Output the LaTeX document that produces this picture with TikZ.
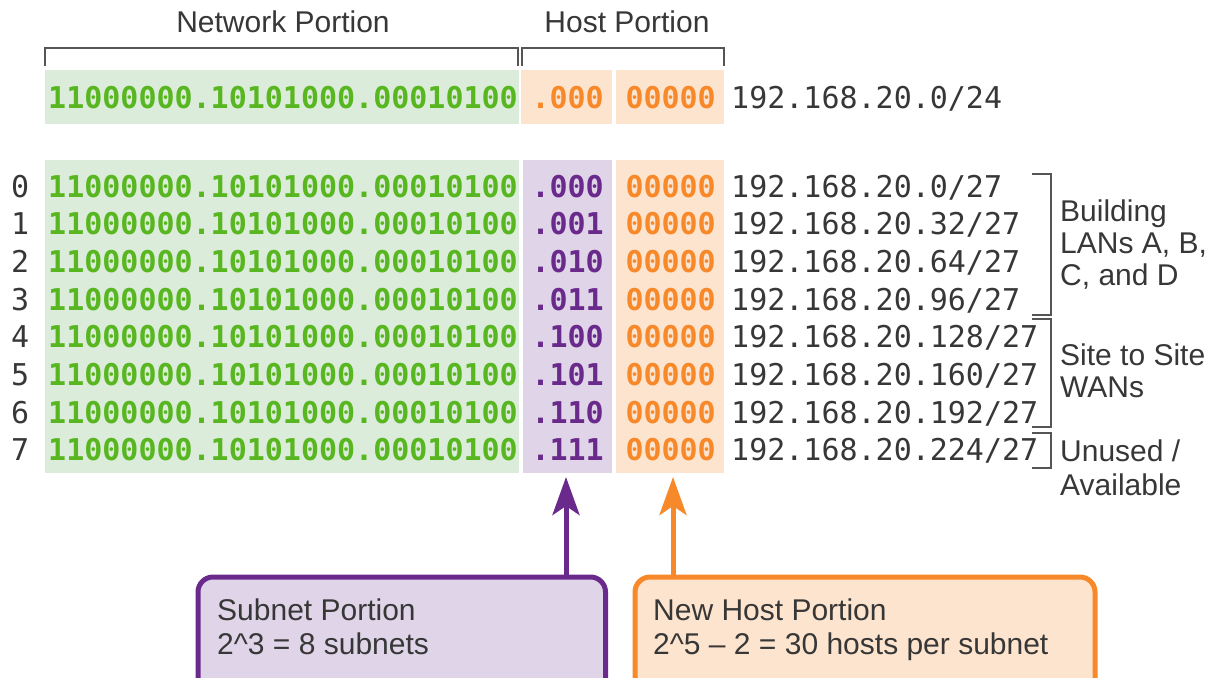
\documentclass[tikz,border=0pt]{standalone}
\usepackage{fontspec}
\setmainfont{Liberation Sans}
\newfontfamily\monof{DejaVu Sans Mono}
\usetikzlibrary{arrows.meta}
\definecolor{gtext}{RGB}{88,182,32}
\definecolor{gfill}{RGB}{220,236,218}
\definecolor{otext}{RGB}{247,137,42}
\definecolor{ofill}{RGB}{253,228,206}
\definecolor{ptext}{RGB}{106,42,140}
\definecolor{pfill}{RGB}{224,212,232}
\definecolor{dtext}{RGB}{55,55,55}
\definecolor{brkcol}{RGB}{85,85,85}
\begin{document}
\begin{tikzpicture}[x=1pt,y=-1pt,
  sans/.style={inner sep=0pt,text=dtext,font=\fontsize{30}{33}\selectfont},
  hdr/.style={sans,anchor=base},
  lbl/.style={sans,anchor=base west,align=left,font=\fontsize{30}{32.5}\selectfont},
  mono/.style={inner sep=0pt,font=\monof\fontsize{30}{33}\selectfont},
  monob/.style={inner sep=0pt,font=\monof\bfseries\fontsize{30}{33}\selectfont},
  brk/.style={draw=brkcol,line width=2.6pt},
  callout/.style={line width=5pt,rounded corners=15pt,anchor=north west},
  parr/.style={draw=ptext,line width=5pt,-{Stealth[length=38pt,width=27pt,inset=9pt]}},
  oarr/.style={draw=otext,line width=5pt,-{Stealth[length=38pt,width=27pt,inset=9pt]}},
]
\useasboundingbox (0,0) rectangle (1214,677);
\clip (0,0) rectangle (1214,677);

% headers
\node[hdr] (nethdr) at (283,33) {Network Portion};
\node[hdr] (hosthdr) at (627,33) {Host Portion};
\draw[brk] (45,66) -- (45,48) -- (518,48) -- (518,66);
\draw[brk] (522,66) -- (522,48) -- (724,48) -- (724,66);

% top row
\fill[gfill] (45,70) rectangle (519,124);
\fill[ofill] (521,70) rectangle (612,124);
\fill[ofill] (616,70) rectangle (724,124);
\node[monob,text=gtext,anchor=base west] (tnet) at (48,108) {11000000.10101000.00010100};
\node[monob,text=otext,anchor=base east] (tsub) at (604,108) {.000};
\node[monob,text=otext,anchor=base east] (thost) at (716,108) {00000};
\node[mono,text=dtext,anchor=base west] (taddr) at (731,108) {192.168.20.0/24};

% lower table
\fill[gfill] (45,160) rectangle (519,473);
\fill[pfill] (523,160) rectangle (612,473);
\fill[ofill] (616,160) rectangle (724,473);
\foreach \i/\b/\a in {0/000/0,1/001/32,2/010/64,3/011/96,4/100/128,5/101/160,6/110/192,7/111/224}{
  \pgfmathsetmacro{\yy}{197+37.7*\i}
  \node[mono,text=dtext,anchor=base west] (num\i) at (11,\yy) {\i};
  \node[monob,text=gtext,anchor=base west] (net\i) at (48,\yy) {11000000.10101000.00010100};
  \node[monob,text=ptext,anchor=base east] (sub\i) at (604,\yy) {.\b};
  \node[monob,text=otext,anchor=base east] (host\i) at (716,\yy) {00000};
  \node[mono,text=dtext,anchor=base west] (addr\i) at (731,\yy) {192.168.20.\a/27};
}

% right brackets
\draw[brk] (1032,174) -- (1051,174) -- (1051,315) -- (1032,315);
\draw[brk] (1032,319) -- (1051,319) -- (1051,427) -- (1032,427);
\draw[brk] (1032,433) -- (1051,433) -- (1051,468) -- (1032,468);
\node[lbl] (lab1) at (1060,221) {Building};
\node[lbl] (lab2) at (1060,253) {LANs A, B,};
\node[lbl] (lab3) at (1060,285) {C, and D};
\node[lbl] (lab4) at (1060,365) {Site to Site};
\node[lbl] (lab5) at (1060,397) {WANs};
\node[lbl] (lab6) at (1060,461) {Unused /};
\node[lbl] (lab7) at (1060,495) {Available};

% callout boxes
\node[callout,draw=ptext,fill=pfill,minimum width=407.5pt,minimum height=140pt] (sbox) at (195.5,574.5) {};
\node[callout,draw=otext,fill=ofill,minimum width=460pt,minimum height=140pt] (hbox) at (632.5,574.5) {};
\node[lbl] (st1) at (217,620) {Subnet Portion};
\node[lbl] (st2) at (217,654) {2\^{}3 = 8 subnets};
\node[lbl] (ht1) at (653,620) {New Host Portion};
\node[lbl] (ht2) at (653,654) {2\^{}5 – 2 = 30 hosts per subnet};

% arrows
\coordinate (sarr) at (566,477);
\coordinate (harr) at (673,477);
\draw[parr] (sbox.north -| sarr) -- (sarr);
\draw[oarr] (hbox.north -| harr) -- (harr);
\end{tikzpicture}
\end{document}
